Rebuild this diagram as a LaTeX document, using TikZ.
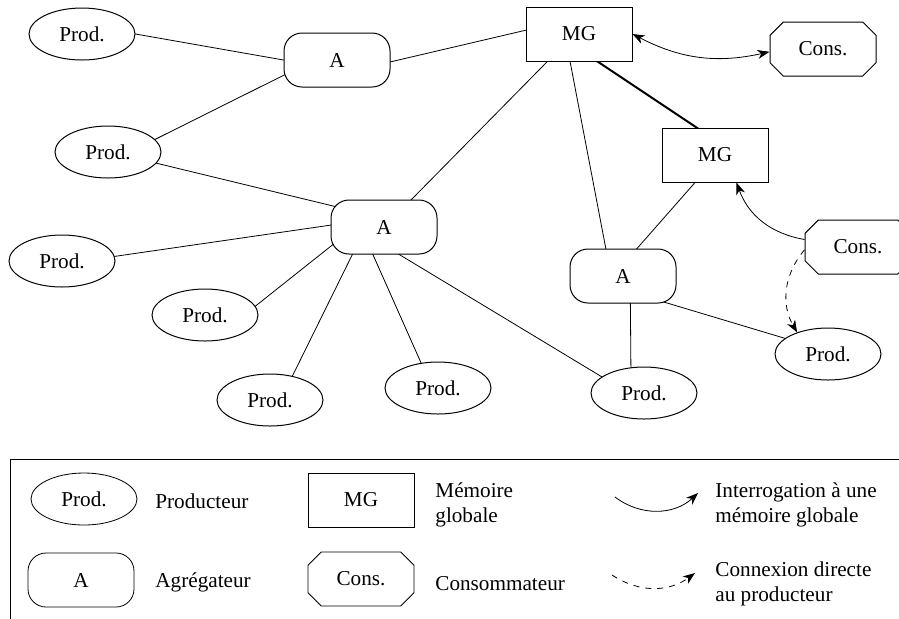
\documentclass[tikz,border=0pt]{standalone}
\usepackage{fontspec}
\setmainfont{Liberation Serif}
\usetikzlibrary{shapes.geometric,shapes.misc,arrows.meta}
\pgfdeclarelayer{bg}
\pgfsetlayers{bg,main}

\begin{document}
\begin{tikzpicture}[x=0.5pt,y=-0.5pt,line width=0.5pt,
  every node/.style={font=\fontsize{10.6}{12.2}\selectfont},
  prod/.style={ellipse, draw, fill=white, minimum width=53pt, minimum height=26pt, inner sep=0pt},
  agreg/.style={rectangle, rounded corners=9pt, draw, fill=white, minimum width=53pt, minimum height=27pt},
  mg/.style={rectangle, draw, fill=white, minimum width=53pt, minimum height=27pt},
  cons/.style={chamfered rectangle, chamfered rectangle xsep=6pt, draw, fill=white, minimum width=53pt, minimum height=27pt, inner sep=0pt},
  link/.style={shorten <=-3pt, shorten >=-3pt},
  query/.style={-{Stealth[length=6pt,width=4.5pt,inset=1.8pt]}},
  direct/.style={query, dashed},
  legtext/.style={anchor=west, inner sep=0pt, align=left}]
\useasboundingbox (0,0) rectangle (899,618);
\node[prod] (p1) at (82,34) {Prod.};
\node[agreg] (a1) at (337,60) {A};
\node[prod] (p2) at (108,152) {Prod.};
\node[agreg] (a2) at (384,227) {A};
\node[prod] (p3) at (62,261) {Prod.};
\node[prod] (p4) at (205,315) {Prod.};
\node[prod] (p5) at (270,400) {Prod.};
\node[prod] (p6) at (438,388) {Prod.};
\node[agreg] (a3) at (623,276) {A};
\node[prod] (p7) at (644,393) {Prod.};
\node[prod] (p8) at (828,354) {Prod.};
\node[mg] (mg1) at (579,34) {MG};
\node[mg] (mg2) at (715,155) {MG};
\node[cons] (c1) at (823,49) {Cons.};
\node[cons] (c2) at (858,247) {Cons.};
\begin{pgfonlayer}{bg}
\draw[link] (p1.east) -- (a1.west);
\draw[link] (p2.15) -- (a1.196);
\draw[link] (a1.358) -- (mg1.176);
\draw[link] (p2.347) -- (a2.158);
\draw[link] (p3.5) -- (a2.178);
\draw[link] (p4.10) -- (a2.200);
\draw[link] (p5.47) -- (a2.221);
\draw[link] (p6.124) -- (a2.248);
\draw[link] (a2.299) -- (p7.159);
\draw[link] (a2.45) -- (mg1.221);
\draw[link] (mg1.252) -- (a3.122);
\draw[link,line width=1pt] (mg1.304) -- (mg2.124);
\draw[link] (mg2.234) -- (a3.63);
\draw[link] (a3.329) -- (p8.160);
\draw[link] (a3.285) -- (p7.117);
\end{pgfonlayer}
\draw[{Stealth[length=6pt,width=4.5pt,inset=1.8pt]}-{Stealth[length=6pt,width=4.5pt,inset=1.8pt]}] (mg1.east) to[bend right=20] (c1.183);
\draw[query] (c2.172) to[bend left=30] (mg2.308);
\draw[direct] (c2.183) to[bend right=35] (p8.145);
\draw (10,459) rectangle (940,660);
\node[prod] (lprod) at (84,499) {Prod.};
\node[legtext] at (155,501) {Producteur};
\node[agreg] (lagreg) at (81,580) {A};
\node[legtext] at (155,582) {Agrégateur};
\node[mg] (lmg) at (361,500) {MG};
\node[legtext] at (435,505) {Mémoire\\globale};
\node[cons] (lcons) at (361,579) {Cons.};
\node[legtext] at (435,584) {Consommateur};
\coordinate (lq1) at (615,497);
\coordinate (lq2) at (698,493);
\draw[query] (lq1) to[bend right=40] (lq2);
\node[legtext] at (715,505) {Interrogation à une\\mémoire globale};
\coordinate (ld1) at (612,575);
\coordinate (ld2) at (695,573);
\draw[direct] (ld1) to[bend right=35] (ld2);
\node[legtext] at (715,584) {Connexion directe\\au producteur};
\end{tikzpicture}
\end{document}
